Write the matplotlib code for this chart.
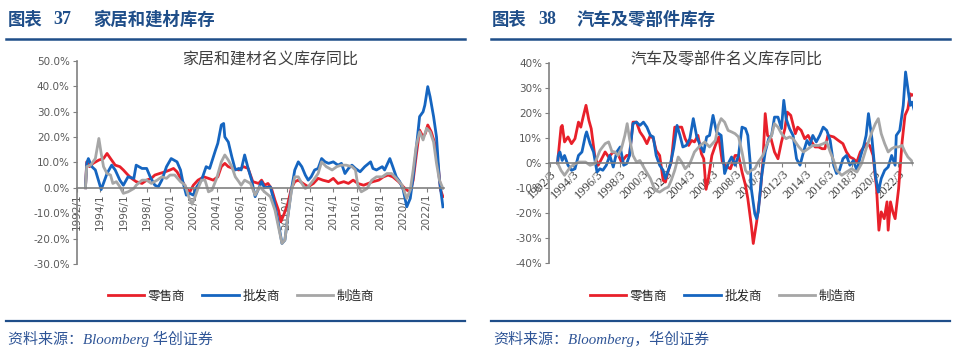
import matplotlib
matplotlib.use("Agg")
import matplotlib.pyplot as plt
from matplotlib.lines import Line2D
from matplotlib.ticker import FuncFormatter

# (decimal year, YoY %)
home_retail = [(1992.75, 0.0), (1992.86, 10.2), (1993.1, 8.3), (1993.4, 9.6), (1993.9, 10.9), (1994.3, 11.5),
               (1994.6, 13.5), (1994.9, 11.5), (1995.3, 8.9), (1995.7, 8.3), (1996.0, 7.0), (1996.4, 5.0),
               (1996.7, 3.7), (1997.1, 2.4), (1997.6, 1.7), (1998.0, 3.0), (1998.4, 3.7), (1998.7, 5.0),
               (1999.1, 5.6), (1999.6, 6.3), (2000.0, 7.0), (2000.3, 7.6), (2000.6, 6.3), (2001.0, 3.0),
               (2001.4, -0.3), (2001.7, -1.6), (2002.0, 1.0), (2002.4, 3.0), (2002.9, 4.3), (2003.3, 3.7),
               (2003.7, 3.0), (2004.1, 4.3), (2004.4, 8.3), (2004.7, 9.6), (2005.0, 8.3), (2005.4, 7.6),
               (2005.9, 7.0), (2006.3, 8.3), (2006.7, 7.6), (2007.1, 2.4), (2007.6, 1.7), (2007.85, 3.0),
               (2008.1, 1.0), (2008.4, 1.7), (2008.7, -0.3), (2009.0, -4.9), (2009.3, -8.8), (2009.5, -13.4),
               (2009.8, -10.1), (2010.1, -6.2), (2010.4, -0.3), (2010.7, 2.4), (2011.0, 3.0), (2011.4, 1.7),
               (2011.85, 0.4), (2012.3, 1.7), (2012.7, 3.7), (2013.1, 3.0), (2013.6, 2.4), (2014.0, 3.7),
               (2014.4, 1.7), (2014.9, 2.4), (2015.3, 1.7), (2015.7, 3.0), (2016.1, 1.7), (2016.6, 1.0),
               (2017.0, 1.7), (2017.4, 2.4), (2017.9, 3.0), (2018.3, 4.3), (2018.7, 5.0), (2019.1, 4.3),
               (2019.6, 2.4), (2020.0, 0.4), (2020.3, -0.9), (2020.6, -1.6), (2020.85, 3.0), (2021.1, 12.2),
               (2021.4, 22.7), (2021.7, 20.0), (2021.9, 21.4), (2022.1, 24.7), (2022.4, 22.0), (2022.7, 17.5),
               (2023.0, 8.3), (2023.2, -0.9), (2023.4, -3.5)]

home_wholesale = [(1992.75, 0.0), (1992.86, 9.6), (1993.0, 11.5), (1993.3, 8.3), (1993.6, 7.0), (1994.1, -0.7),
                  (1994.6, 5.6), (1995.0, 8.9), (1995.3, 7.0), (1995.7, 3.0), (1996.0, 1.0), (1996.4, 4.3),
                  (1996.9, 3.7), (1997.1, 8.9), (1997.6, 7.6), (1998.0, 7.6), (1998.3, 4.3), (1998.7, 1.0),
                  (1999.0, 0.4), (1999.3, 3.0), (1999.7, 8.3), (2000.1, 11.5), (2000.6, 10.2), (2000.9, 7.0),
                  (2001.1, 2.4), (2001.4, -2.9), (2001.7, -2.2), (2002.0, -2.9), (2002.3, 0.4), (2002.7, 3.0),
                  (2003.1, 8.3), (2003.4, 7.6), (2003.9, 14.8), (2004.1, 17.5), (2004.4, 24.7), (2004.6, 25.3),
                  (2004.7, 20.0), (2005.0, 18.0), (2005.3, 12.2), (2005.6, 7.0), (2005.9, 7.6), (2006.1, 7.0),
                  (2006.4, 12.9), (2006.7, 7.6), (2007.0, 3.0), (2007.3, -3.5), (2007.85, 2.4), (2008.1, 0.0),
                  (2008.6, 0.4), (2008.9, -4.9), (2009.1, -9.4), (2009.4, -16.7), (2009.6, -21.9),
                  (2009.85, -20.6), (2010.1, -11.4), (2010.4, -0.9), (2010.7, 7.0), (2011.0, 10.2), (2011.3, 8.3),
                  (2011.6, 5.0), (2011.85, 3.0), (2012.1, 4.3), (2012.4, 7.0), (2012.7, 7.6), (2013.0, 11.5),
                  (2013.3, 10.2), (2013.6, 9.6), (2014.0, 10.2), (2014.4, 8.9), (2014.7, 9.6), (2015.0, 5.6),
                  (2015.3, 7.6), (2015.6, 8.9), (2015.9, 7.6), (2016.3, 6.3), (2016.7, 8.3), (2017.2, 10.2),
                  (2017.4, 7.6), (2017.7, 7.0), (2018.2, 8.3), (2018.4, 7.0), (2018.85, 11.5), (2019.1, 8.3),
                  (2019.4, 4.3), (2019.7, 2.4), (2020.0, -0.9), (2020.3, -7.5), (2020.6, -4.2), (2020.85, 4.3),
                  (2021.1, 14.8), (2021.4, 28.0), (2021.7, 29.9), (2021.85, 32.5), (2022.1, 39.8),
                  (2022.3, 35.8), (2022.6, 28.0), (2022.85, 20.0), (2023.1, 3.0), (2023.4, -7.5)]

home_mfg = [(1992.75, 0.0), (1992.86, 8.3), (1993.2, 8.9), (1993.6, 11.5), (1993.9, 19.4), (1994.1, 13.5),
            (1994.3, 8.3), (1994.6, 5.6), (1994.9, 5.0), (1995.1, 1.7), (1995.4, 2.4), (1995.7, 0.4),
            (1996.0, -2.2), (1996.4, -1.6), (1996.9, -0.3), (1997.1, 1.0), (1997.6, 3.0), (1998.0, 3.0),
            (1998.4, 1.7), (1998.9, 3.0), (1999.3, 4.3), (1999.7, 3.7), (2000.0, 5.0), (2000.4, 5.0),
            (2000.9, 2.4), (2001.3, 1.0), (2001.6, -3.5), (2001.9, -6.5), (2002.1, -4.2), (2002.4, -0.3),
            (2002.7, 3.0), (2003.0, 3.0), (2003.3, -1.6), (2003.6, -0.9), (2004.0, 3.7), (2004.4, 10.2),
            (2004.7, 12.9), (2005.0, 10.9), (2005.3, 8.3), (2005.6, 4.3), (2005.9, 2.4), (2006.1, 1.0),
            (2006.4, 3.0), (2006.9, 1.7), (2007.3, -2.9), (2007.7, 0.4), (2008.1, -1.6), (2008.6, -3.5),
            (2009.0, -8.8), (2009.3, -15.4), (2009.6, -21.9), (2009.85, -20.6), (2010.1, -11.4),
            (2010.4, -1.6), (2010.7, 4.3), (2011.0, 4.3), (2011.3, 1.7), (2011.6, -0.3), (2011.85, 0.4),
            (2012.3, 3.0), (2012.7, 5.6), (2013.0, 10.2), (2013.4, 8.3), (2013.9, 7.0), (2014.3, 8.3),
            (2014.7, 8.9), (2015.1, 8.9), (2015.6, 8.3), (2015.9, 7.0), (2016.1, 1.0), (2016.4, -1.6),
            (2016.9, -0.3), (2017.3, 3.0), (2017.7, 4.3), (2018.2, 4.3), (2018.6, 5.6), (2019.0, 5.6),
            (2019.4, 3.7), (2019.9, 1.0), (2020.3, -4.2), (2020.6, -0.9), (2020.85, 7.0), (2021.1, 16.1),
            (2021.4, 22.0), (2021.7, 18.8), (2022.0, 23.4), (2022.3, 22.0), (2022.6, 18.0), (2022.85, 9.6),
            (2023.1, 3.0), (2023.4, -0.3)]

auto_retail = [(1992.8, 0.0), (1992.86, 3.0), (1993.1, 14.3), (1993.2, 15.0), (1993.4, 8.4), (1993.7, 10.4),
               (1994.0, 7.7), (1994.3, 9.7), (1994.6, 16.3), (1994.8, 14.3), (1995.0, 18.3), (1995.25, 23.0),
               (1995.5, 17.0), (1995.7, 13.7), (1996.0, 3.0), (1996.3, -0.9), (1996.6, 1.7), (1996.9, 4.4),
               (1997.2, 2.4), (1997.6, 4.4), (1998.0, 3.7), (1998.3, 0.4), (1998.75, 3.0), (1999.0, 3.0),
               (1999.3, 16.3), (1999.6, 16.3), (1999.9, 12.4), (2000.2, 10.4), (2000.5, 7.7), (2000.8, 11.0),
               (2001.05, 9.7), (2001.3, 5.0), (2001.6, 3.0), (2001.9, -6.9), (2002.1, -7.6), (2002.35, -2.9),
               (2002.6, 0.4), (2002.9, 14.3), (2003.2, 14.3), (2003.5, 14.3), (2003.8, 9.7), (2004.1, 7.0),
               (2004.35, 9.0), (2004.6, 8.4), (2004.9, 11.0), (2005.2, 3.7), (2005.4, 1.7), (2005.6, -10.5),
               (2005.8, -6.2), (2006.1, 3.0), (2006.4, 7.0), (2006.7, 10.4), (2007.0, 0.4), (2007.23, -0.9),
               (2007.7, -2.3), (2008.1, 3.0), (2008.4, 3.0), (2008.7, -3.6), (2009.0, -8.9), (2009.2, -14.2),
               (2009.5, -24.8), (2009.67, -32.1), (2009.96, -23.5), (2010.25, -12.9), (2010.5, 0.4),
               (2010.7, 19.7), (2010.9, 11.0), (2011.2, 9.7), (2011.5, 4.4), (2011.8, 1.7), (2012.1, 8.4),
               (2012.4, 13.7), (2012.6, 20.3), (2012.9, 19.0), (2013.3, 11.7), (2013.5, 14.3), (2013.8, 13.0),
               (2014.1, 9.7), (2014.4, 11.0), (2014.7, 8.4), (2015.0, 6.4), (2015.3, 6.4), (2015.6, 5.7),
               (2015.85, 5.7), (2016.1, 11.0), (2016.6, 10.4), (2017.0, 9.0), (2017.4, 7.7), (2017.7, 4.4),
               (2018.0, 2.4), (2018.3, 1.7), (2018.6, 0.4), (2018.9, 4.4), (2019.2, 6.4), (2019.4, 7.7),
               (2019.7, 7.0), (2020.0, 3.0), (2020.3, -10.2), (2020.5, -26.8), (2020.7, -19.5),
               (2020.96, -22.2), (2021.2, -15.5), (2021.3, -26.8), (2021.5, -15.5), (2021.7, -19.5),
               (2021.9, -22.2), (2022.2, -10.2), (2022.5, 8.4), (2022.75, 19.0), (2023.0, 21.6),
               (2023.2, 27.6), (2023.35, 27.0), (2023.55, 27.6)]

auto_wholesale = [(1992.8, 0.0), (1992.86, 3.0), (1993.0, 4.4), (1993.2, 1.0), (1993.4, 3.0), (1993.7, -0.9),
                  (1994.0, -2.9), (1994.3, -2.3), (1994.6, 3.0), (1994.9, 4.4), (1995.2, 11.0), (1995.3, 12.4),
                  (1995.6, 7.7), (1995.9, 4.4), (1996.2, -3.6), (1996.45, -2.3), (1996.7, -2.9), (1997.0, -0.9),
                  (1997.3, 3.0), (1997.6, -1.6), (1997.9, 4.4), (1998.2, 6.4), (1998.5, -0.9), (1998.75, -0.3),
                  (1999.0, 3.0), (1999.3, 15.7), (1999.6, 16.3), (1999.9, 15.0), (2000.2, 16.3), (2000.5, 14.3),
                  (2000.8, 11.0), (2001.05, 10.4), (2001.3, 3.0), (2001.6, -0.9), (2001.9, -2.9),
                  (2002.1, -6.2), (2002.5, -0.9), (2002.8, 5.7), (2003.1, 15.0), (2003.35, 11.0), (2003.6, 6.4),
                  (2003.9, 7.0), (2004.2, 9.7), (2004.5, 17.7), (2004.8, 10.4), (2005.1, 7.0), (2005.4, 4.4),
                  (2005.65, 10.4), (2005.9, 11.0), (2006.2, 19.0), (2006.5, 12.4), (2006.9, 11.0),
                  (2007.2, -4.2), (2007.5, -0.3), (2007.8, 2.4), (2008.1, -0.9), (2008.4, 3.0), (2008.7, 14.3),
                  (2009.0, 13.7), (2009.2, 11.0), (2009.4, 0.4), (2009.5, -10.2), (2009.8, -20.2),
                  (2009.96, -22.2), (2010.1, -19.5), (2010.4, -4.9), (2010.7, 4.4), (2011.0, 9.7),
                  (2011.25, 11.0), (2011.5, 18.3), (2011.8, 18.3), (2012.1, 13.7), (2012.3, 25.0),
                  (2012.5, 17.7), (2012.8, 13.7), (2013.1, 11.0), (2013.4, 1.7), (2013.7, -0.9), (2014.0, 4.4),
                  (2014.3, 9.0), (2014.55, 7.0), (2014.8, 11.0), (2015.1, 8.4), (2015.4, 11.0), (2015.7, 14.3),
                  (2016.0, 13.0), (2016.3, 9.0), (2016.6, -0.9), (2016.85, -4.2), (2017.1, -2.9),
                  (2017.4, 1.7), (2017.7, 3.0), (2018.0, -0.9), (2018.3, 1.0), (2018.6, -2.9), (2018.9, 2.4),
                  (2019.2, 7.0), (2019.4, 11.0), (2019.6, 19.7), (2019.9, 9.7), (2020.2, -4.9),
                  (2020.45, -11.6), (2020.7, -6.2), (2021.0, -2.9), (2021.3, -1.6), (2021.6, 3.0),
                  (2021.9, -0.9), (2022.0, 11.0), (2022.3, 13.0), (2022.6, 23.0), (2022.8, 36.3),
                  (2023.0, 29.6), (2023.2, 23.0), (2023.35, 24.3), (2023.55, 21.0)]

auto_mfg = [(1992.8, 0.0), (1993.1, -3.0), (1993.4, -4.9), (1993.9, -1.6), (1994.3, -0.3), (1994.7, 0.4),
            (1995.2, 0.4), (1995.6, -0.9), (1996.0, -0.3), (1996.45, 5.0), (1996.9, 7.7), (1997.2, 8.4),
            (1997.5, 4.4), (1997.75, 4.4), (1998.0, 3.0), (1998.3, 5.7), (1998.6, 11.0), (1998.8, 15.7),
            (1999.0, 9.7), (1999.3, 3.0), (1999.6, 0.4), (1999.9, 1.0), (2000.3, -2.3), (2000.8, -6.2),
            (2001.2, -10.9), (2001.6, -11.6), (2002.05, -10.2), (2002.35, -9.6), (2002.6, -6.9),
            (2002.9, -2.9), (2003.2, 2.4), (2003.5, 0.4), (2003.8, -2.3), (2004.2, -0.3), (2004.6, 4.4),
            (2005.1, 7.0), (2005.5, 8.4), (2005.9, 6.4), (2006.4, 9.0), (2006.65, 15.0), (2006.9, 17.7),
            (2007.2, 16.3), (2007.5, 13.0), (2007.8, 12.4), (2008.1, 11.7), (2008.4, 10.4), (2008.7, 4.4),
            (2009.0, -2.9), (2009.2, -4.2), (2009.5, -2.9), (2009.8, -2.3), (2010.1, 0.4), (2010.5, 3.0),
            (2010.8, 7.0), (2011.25, 11.0), (2011.5, 15.7), (2011.8, 14.3), (2012.1, 11.7), (2012.5, 9.7),
            (2012.8, 10.4), (2013.1, 9.7), (2013.6, 6.4), (2014.0, 4.4), (2014.4, 5.7), (2014.8, 7.0),
            (2015.3, 7.0), (2015.7, 7.7), (2016.0, 8.4), (2016.3, 4.4), (2016.6, 1.0), (2016.85, -2.9),
            (2017.3, -4.9), (2017.7, -3.6), (2018.15, -2.3), (2018.6, -3.6), (2019.0, -0.3), (2019.4, 5.7),
            (2019.9, 12.4), (2020.2, 15.7), (2020.45, 17.7), (2020.7, 11.7), (2021.0, 7.7), (2021.3, 4.4),
            (2021.6, 5.7), (2021.9, 6.4), (2022.2, 6.4), (2022.5, 7.0), (2022.75, 4.4), (2023.0, 2.4),
            (2023.3, 1.0), (2023.5, -0.9)]

series_names = ["零售商", "批发商", "制造商"]
home_ticks = list(range(1992, 2024, 2))
home_tick_labels = [f"{y}/1" for y in home_ticks]
auto_ticks = [y + 2 / 12 for y in range(1992, 2024, 2)]
auto_tick_labels = [f"{y}/3" for y in range(1992, 2024, 2)]

COLORS = ["#E8202A", "#1565C0", "#A6A6A6"]
NAVY = "#1F4E89"
CJK = ["Noto Sans CJK SC", "DejaVu Sans"]
GRID_GRAY = "#808080"
TICK_TXT = "#595959"

fig = plt.figure(figsize=(9.6, 3.54), dpi=100)
W, H = 960.0, 354.0


def fx(px):
    return px / W


def fy(py):
    return 1 - py / H


def draw_panel(ax, data, ylim, ystep, yfmt, xlim, ticks, labels, xrot, xfont):
    for d, c, name in zip(data, COLORS, series_names):
        t = [p[0] for p in d]
        v = [p[1] for p in d]
        ax.plot(t, v, color=c, lw=2.0, label=name, solid_joinstyle="round")
    ax.set_xlim(*xlim)
    ax.set_ylim(*ylim)
    ax.set_yticks(list(range(ylim[0], ylim[1] + 1, ystep)))
    ax.yaxis.set_major_formatter(FuncFormatter(yfmt))
    ax.set_xticks(ticks)
    ax.spines["top"].set_visible(False)
    ax.spines["right"].set_visible(False)
    ax.spines["bottom"].set_position(("data", 0))
    for s in ("left", "bottom"):
        ax.spines[s].set_color(GRID_GRAY)
        ax.spines[s].set_linewidth(1.2)
    ax.tick_params(axis="y", length=3, color=GRID_GRAY, labelsize=7.5, labelcolor=TICK_TXT, pad=2)
    ax.tick_params(axis="x", length=3, color=GRID_GRAY, pad=1)
    if xrot == 90:
        ax.set_xticklabels(labels, rotation=90, ha="center", va="top", fontsize=7.5,
                           color=TICK_TXT, family="DejaVu Sans")
    else:
        ax.set_xticklabels(labels, rotation=45, ha="right", va="top", rotation_mode="anchor",
                           fontsize=9, color="#404040", family=xfont)
    ax.patch.set_visible(False)


ax1 = fig.add_axes([fx(76.7), fy(264), fx(366.8), (264 - 60.7) / H])
draw_panel(ax1, [home_retail, home_wholesale, home_mfg], (-30, 50), 10,
           lambda v, p: f"{v:.1f}%", (1992.0, 2023.45), home_ticks, home_tick_labels, 90, "DejaVu Sans")

ax2 = fig.add_axes([fx(549), fy(263.3), fx(364), (263.3 - 62.7) / H])
draw_panel(ax2, [auto_retail, auto_wholesale, auto_mfg], (-40, 40), 10,
           lambda v, p: f"{v:.0f}%", (1992.06, 2023.44), auto_ticks, auto_tick_labels, 45, "Liberation Serif")

# chart titles
fig.text(fx(270), fy(60), "家居和建材名义库存同比", ha="center", va="center",
         fontsize=11.5, color="#404040", family=CJK)
fig.text(fx(726), fy(60), "汽车及零部件名义库存同比", ha="center", va="center",
         fontsize=11.5, color="#404040", family=CJK)

# panel headers
for x_lab, x_num, x_txt, num, txt in [(8, 53, 93, "37", "家居和建材库存"),
                                      (492, 538, 577, "38", "汽车及零部件库存")]:
    fig.text(fx(x_lab), fy(20), "图表", ha="left", va="center", fontsize=12.5,
             fontweight="bold", color=NAVY, family=CJK)
    fig.text(fx(x_num), fy(20), num, ha="left", va="center", fontsize=13,
             fontweight="bold", color=NAVY, family="Liberation Serif")
    fig.text(fx(x_txt), fy(20), txt, ha="left", va="center", fontsize=12.5,
             fontweight="bold", color=NAVY, family=CJK)

# horizontal rules
for x0, x1 in [(6, 465), (491, 950)]:
    fig.add_artist(Line2D([fx(x0), fx(x1)], [fy(39), fy(39)], transform=fig.transFigure,
                          color=NAVY, lw=1.8))
    fig.add_artist(Line2D([fx(x0), fx(x1)], [fy(320.7), fy(320.7)], transform=fig.transFigure,
                          color=NAVY, lw=1.6))

# legends
for ax, cx in [(ax1, 241), (ax2, 723)]:
    h, l = ax.get_legend_handles_labels()
    fig.legend(h, l, loc="center", bbox_to_anchor=(fx(cx), fy(296)), ncol=3, frameon=False,
               handlelength=2.9, handletextpad=0.3, columnspacing=1.35, borderpad=0,
               prop={"family": CJK, "size": 9}, labelcolor="#262626")

# source notes
fig.text(fx(8), fy(339), "资料来源：Bloomberg 华创证券", ha="left", va="center", fontsize=10.8,
         color="#2F5597", style="italic", family=["Liberation Serif", "Noto Sans CJK SC"])
fig.text(fx(493), fy(339), "资料来源：Bloomberg，华创证券", ha="left", va="center", fontsize=10.8,
         color="#2F5597", style="italic", family=["Liberation Serif", "Noto Sans CJK SC"])

fig.savefig("out.png", dpi=100, facecolor="white")
